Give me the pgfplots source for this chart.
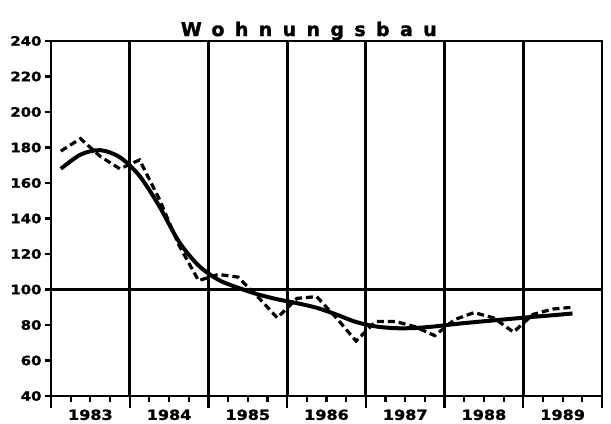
\documentclass[border=0pt]{standalone}
\usepackage{fontspec}
\setmainfont{DejaVu Sans}
\newfontfamily\labfont{DejaVu Sans Bold}[FakeStretch=1.15, FakeBold=1.5]
\newfontfamily\titfont{DejaVu Sans Bold}[LetterSpace=55, FakeBold=1.5]
\usepackage{pgfplots}
\pgfplotsset{compat=1.18}
\pgfplotstableread{
q v
0.5 178
1.5 185
2.5 175
3.5 168
4.5 173
5.5 151
6.5 125
7.5 105
8.5 108.5
9.5 107
10.5 96
11.5 84
12.5 95
13.5 96
14.5 84
15.5 71
16.5 82
17.5 82
18.5 79
19.5 74
20.5 83
21.5 87
22.5 84
23.5 76
24.5 86
25.5 89
26.5 90
}\actual
\pgfplotstableread{
q v
0.5 168
1.5 176
2.5 178.5
3.5 174.5
4.5 164
5.5 147
6.5 127
7.5 113.5
8.5 105.5
9.5 101
10.5 97.3
11.5 94.5
12.5 92.3
13.5 89.7
14.5 85.9
15.5 81.7
16.5 79.2
17.5 78.2
18.5 78.3
19.5 79.2
20.5 80.5
21.5 81.6
22.5 82.6
23.5 83.6
24.5 84.6
25.5 85.5
26.5 86.5
}\trend
\begin{document}
\begin{tikzpicture}
\begin{axis}[
  scale only axis, width=551bp, height=355bp,
  xmin=0, xmax=28, ymin=40, ymax=240,
  axis line style={line width=2.8bp, black},
  xtick pos=bottom, ytick pos=left,
  tick align=outside,
  every tick/.style={line width=2.2bp, black},
  major tick length=6bp,
  ytick={40,60,...,240},
  xtick={1,2,3,5,6,7,9,10,11,13,14,15,17,18,19,21,22,23,25,26,27},
  xticklabels={,1983,,,1984,,,1985,,,1986,,,1987,,,1988,,,1989,},
  extra x ticks={0,4,8,12,16,20,24,28},
  extra x tick labels={},
  extra x tick style={grid=major, major grid style={line width=2.8bp, black}, major tick length=12bp},
  extra y ticks={100},
  extra y tick labels={},
  extra y tick style={grid=major, major grid style={line width=2.8bp, black}, major tick length=0pt},
  /pgf/number format/assume math mode=true,
  tick label style={font=\labfont\fontsize{13}{13}\selectfont},
  xticklabel style={yshift=-4bp, font=\labfont\fontsize{14}{14}\selectfont},
  clip=false,
]
\addplot[black, line width=3.2bp, dash pattern=on 7bp off 4bp] table[x=q, y=v] {\actual};
\addplot[black, line width=4bp, smooth, tension=0.5] table[x=q, y=v] {\trend};
\node[anchor=base, inner sep=0pt, font=\titfont\fontsize{19}{19}\selectfont] at (axis cs:13.1,242.8) {Wohnungsbau};
\end{axis}
\path (current axis.south west) ++(-51bp,-23bp) coordinate (a);
\path (current axis.north east) ++(9bp,41bp) coordinate (b);
\useasboundingbox (a) rectangle (b);
\end{tikzpicture}
\end{document}
